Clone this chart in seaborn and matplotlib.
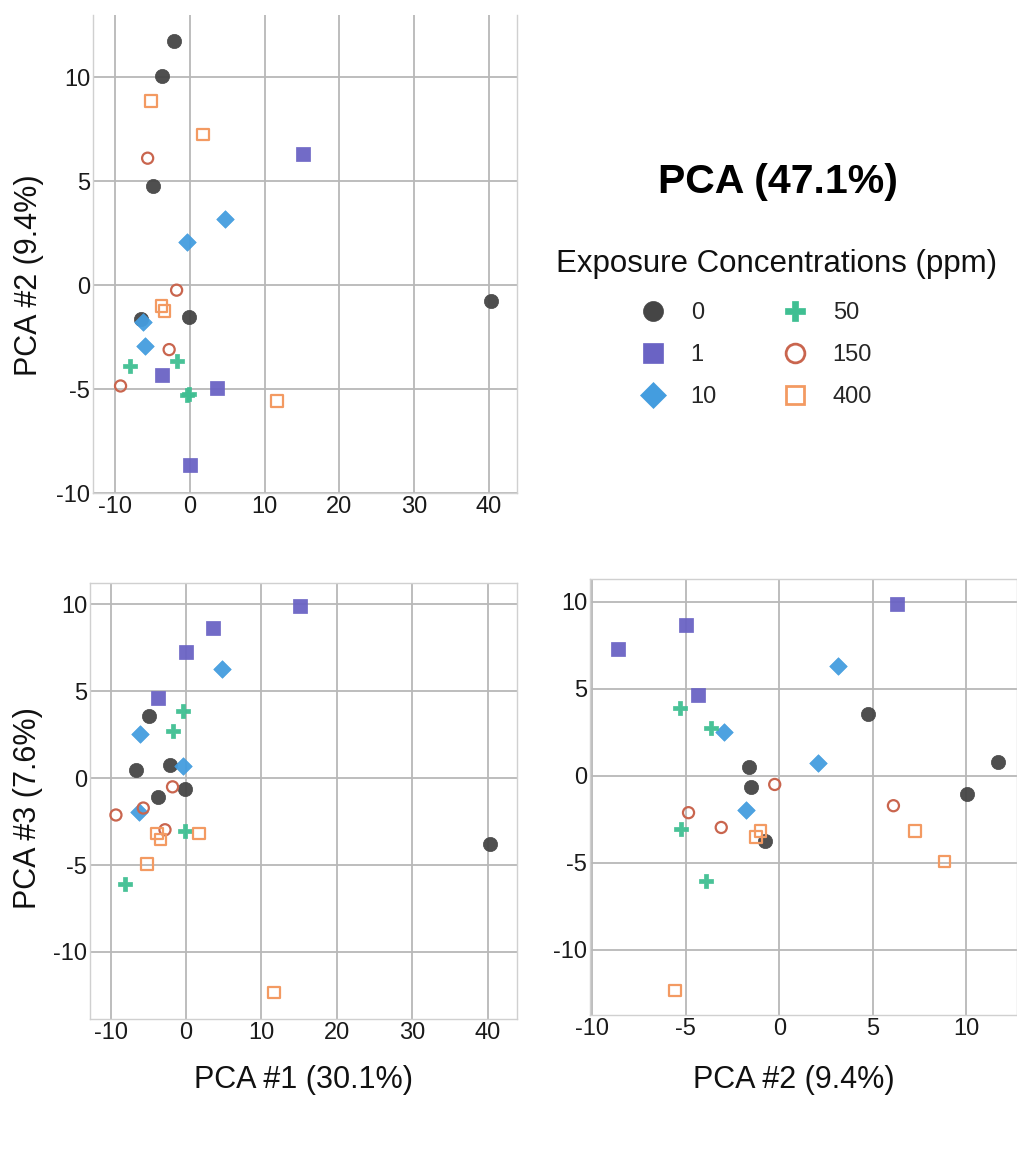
import numpy as np
import pandas as pd
import matplotlib
matplotlib.use("Agg")
import matplotlib.pyplot as plt
from matplotlib.lines import Line2D
import seaborn as sns

# ---------------- data ----------------
groups = ["0", "1", "10", "50", "150", "400"]

pc1_0 = [-2.2, -3.7, -4.9, -6.6, -0.2, 40.3]
pc2_0 = [11.73, 10.05, 4.75, -1.63, -1.52, -0.77]
pc3_0 = [0.78, -1.07, 3.55, 0.48, -0.62, -3.77]

pc1_1 = [15.1, -3.73, 3.55, -0.04]
pc2_1 = [6.29, -4.33, -4.96, -8.64]
pc3_1 = [9.88, 4.63, 8.65, 7.28]

pc1_10 = [4.7, -0.45, -6.3, -6.1]
pc2_10 = [3.17, 2.07, -1.78, -2.93]
pc3_10 = [6.3, 0.71, -1.96, 2.53]

pc1_50 = [-8.11, -1.72, -0.45, -0.1]
pc2_50 = [-3.89, -3.65, -5.28, -5.23]
pc3_50 = [-6.07, 2.73, 3.88, -3.07]

pc1_150 = [-5.68, -1.8, -2.8, -9.31]
pc2_150 = [6.11, -0.24, -3.1, -4.85]
pc3_150 = [-1.72, -0.5, -2.97, -2.12]

pc1_400 = [-5.2, 1.73, -3.82, -3.4, 11.67]
pc2_400 = [8.85, 7.25, -0.99, -1.24, -5.58]
pc3_400 = [-4.93, -3.19, -3.19, -3.52, -12.34]

title_text = "PCA (47.1%)"
legend_title = "Exposure Concentrations (ppm)"
label_pc1 = "PCA #1 (30.1%)"
label_pc2 = "PCA #2 (9.4%)"
label_pc3 = "PCA #3 (7.6%)"

pc1 = [pc1_0, pc1_1, pc1_10, pc1_50, pc1_150, pc1_400]
pc2 = [pc2_0, pc2_1, pc2_10, pc2_50, pc2_150, pc2_400]
pc3 = [pc3_0, pc3_1, pc3_10, pc3_50, pc3_150, pc3_400]

rows = []
for g, a, b, c in zip(groups, pc1, pc2, pc3):
    for x1, x2, x3 in zip(a, b, c):
        rows.append({"group": g, "PC1": x1, "PC2": x2, "PC3": x3})
df = pd.DataFrame(rows)

# ---------------- style ----------------
colors = {"0": "#454545", "1": "#6a63c4", "10": "#449ddf",
          "50": "#3fbf92", "150": "#c9654e", "400": "#f39a62"}
markers = {"0": "o", "1": "s", "10": "D", "50": "P", "150": "o", "400": "s"}
filled = {"0": True, "1": True, "10": True, "50": True, "150": False, "400": False}
sizes = {"0": 105, "1": 92, "10": 80, "50": 105, "150": 64, "400": 70}
leg_ms = {"0": 14.4, "1": 14.4, "10": 13.7, "50": 14.4, "150": 13.5, "400": 13.5}

sns.set_theme(style="white")
plt.rcParams["font.family"] = ["Liberation Sans", "DejaVu Sans"]
plt.rcParams["axes.unicode_minus"] = False

W, H = 1017, 1164
fig = plt.figure(figsize=(W / 100, H / 100), dpi=100)


def box(l, t, r, b):
    return [l / W, 1 - b / H, (r - l) / W, (b - t) / H]


ax_tl = fig.add_axes(box(93, 15, 517, 493))
ax_bl = fig.add_axes(box(90, 583, 517, 1019))
ax_br = fig.add_axes(box(590, 579, 1017, 1015))


def draw(ax, xcol, ycol):
    for g in groups:
        sub = df[df["group"] == g]
        col = colors[g]
        if filled[g]:
            sns.scatterplot(data=sub, x=xcol, y=ycol, ax=ax, marker=markers[g],
                            color=col, edgecolor=col, linewidth=0.5,
                            s=sizes[g], alpha=0.95, zorder=3)
        else:
            sns.scatterplot(data=sub, x=xcol, y=ycol, ax=ax, marker=markers[g],
                            color=col, facecolor="none", edgecolor=col,
                            linewidth=1.6, s=sizes[g], zorder=3)


draw(ax_tl, "PC1", "PC2")
draw(ax_bl, "PC1", "PC3")
draw(ax_br, "PC2", "PC3")

ax_tl.set_xlim(-13.0, 43.8)
ax_tl.set_ylim(-10.0, 13.0)
ax_bl.set_xlim(-12.75, 43.9)
ax_bl.set_ylim(-13.86, 11.23)
ax_br.set_xlim(-10.12, 12.72)
ax_br.set_ylim(-13.74, 11.3)

ax_tl.set_xticks([-10, 0, 10, 20, 30, 40])
ax_tl.set_yticks([-10, -5, 0, 5, 10])
ax_bl.set_xticks([-10, 0, 10, 20, 30, 40])
ax_bl.set_yticks([-10, -5, 0, 5, 10])
ax_br.set_xticks([-10, -5, 0, 5, 10])
ax_br.set_yticks([-10, -5, 0, 5, 10])

for ax in (ax_tl, ax_bl, ax_br):
    ax.grid(True, color="#b8b8b8", linewidth=1.3, zorder=0)
    ax.set_axisbelow(True)
    ax.tick_params(axis="both", length=0, pad=2, labelsize=17, labelcolor="#1a1a1a")
    for sp in ax.spines.values():
        sp.set_color("#d0d0d0")
        sp.set_linewidth(1.0)
    ax.set_xlabel("")
    ax.set_ylabel("")

ax_tl.spines["top"].set_visible(False)

lab_kw = dict(fontsize=22, color="#111111", va="center", ha="center")
ax_tl.set_ylabel(label_pc2, **lab_kw)
ax_tl.yaxis.set_label_coords((29 - 93) / 424, (493 - 275) / 478)
ax_bl.set_ylabel(label_pc3, **lab_kw)
ax_bl.yaxis.set_label_coords((28 - 90) / 427, (1019 - 808) / 436)
ax_bl.set_xlabel(label_pc1, **lab_kw)
ax_bl.xaxis.set_label_coords((303 - 90) / 427, (1019 - 1080) / 436)
ax_br.set_xlabel(label_pc2, **lab_kw)
ax_br.xaxis.set_label_coords((794 - 590) / 427, (1015 - 1080) / 436)

fig.text(778 / W, 1 - 182 / H, title_text, fontsize=29.5, fontweight="bold",
         ha="center", va="center", color="#000000")
fig.text(777 / W, 1 - 264 / H, legend_title, fontsize=22.5,
         ha="center", va="center", color="#111111")

handles = []
for g in groups:
    col = colors[g]
    if filled[g]:
        h = Line2D([], [], linestyle="none", marker=markers[g], markersize=leg_ms[g],
                   markerfacecolor=col, markeredgecolor=col, markeredgewidth=0.5)
    else:
        h = Line2D([], [], linestyle="none", marker=markers[g], markersize=leg_ms[g],
                   markerfacecolor="none", markeredgecolor=col, markeredgewidth=2.0)
    handles.append(h)

leg = fig.legend(handles, groups, ncol=2, loc="upper left",
                 bbox_to_anchor=(627 / W, 1 - 290 / H), frameon=False, fontsize=17,
                 handlelength=1.2, handletextpad=1.0,
                 columnspacing=2.7, labelspacing=0.86, borderpad=0.0)

fig.savefig("out.png", dpi=100)
